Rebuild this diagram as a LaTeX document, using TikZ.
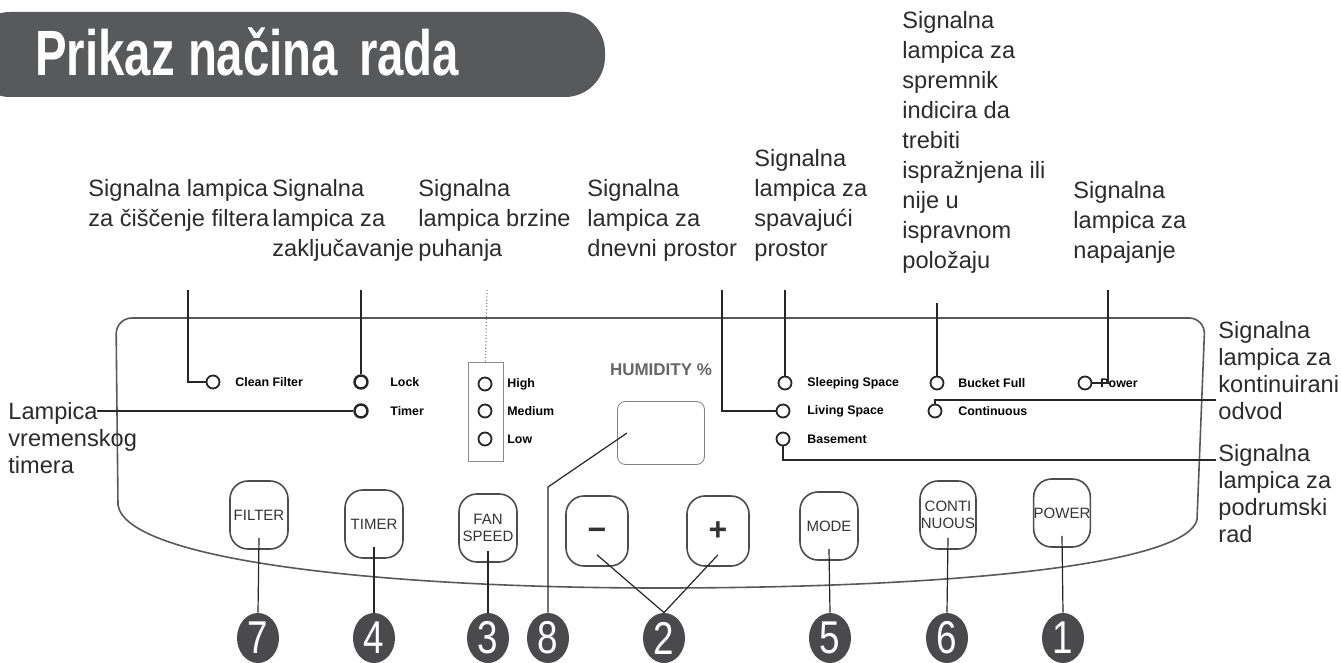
\documentclass[tikz,border=0pt]{standalone}
\usepackage{fontspec}
\setmainfont{Liberation Sans}
\usepackage{graphicx}
\usetikzlibrary{shapes.geometric}

\definecolor{bannergray}{HTML}{58595B}
\definecolor{numgray}{HTML}{4A4A4C}
\definecolor{txtgray}{HTML}{2B2B2B}

\tikzset{
  lbl/.style={anchor=north west, inner sep=0pt, align=left, text=txtgray,
    font=\fontsize{11.8}{15}\selectfont},
  sidelbl/.style={lbl, font=\fontsize{11.8}{13.5}\selectfont},
  led/.style={circle, draw=black!85, line width=0.9pt, minimum size=6.5pt, inner sep=0pt},
  ledtxt/.style={anchor=west, inner sep=0pt, font=\bfseries\fontsize{6.2}{7}\selectfont},
  btn/.style={draw=black!70, line width=0.8pt, rounded corners=9pt, minimum width=29pt,
    minimum height=34pt, inner sep=0pt, align=center, text=black!80,
    font=\fontsize{7.5}{8.5}\selectfont},
  num/.style={ellipse, fill=numgray, text=white, minimum width=21pt, minimum height=25pt,
    inner sep=0pt, font=\fontsize{23}{23}\selectfont},
  leader/.style={line width=0.6pt, black!85},
  panel/.style={line width=0.8pt, black!65}
}

\begin{document}
\begin{tikzpicture}[x=0.5pt, y=-0.5pt]
\useasboundingbox (0,0) rectangle (1341,663);

% title banner
\fill[bannergray, rounded corners=20pt] (-30,12) rectangle (605,97);
\node[anchor=base west, inner sep=0pt, text=white, font=\bfseries\fontsize{32}{32}\selectfont]
  (title) at (35,76) {\scalebox{0.74}[1]{Prikaz načina\, rada}};

% panel outline
\draw[panel, rounded corners=8pt] (1197,520) -- (1205,318) -- (116,318) -- (118,505);
\draw[panel] (118,505) .. controls (126,560) and (380,588) .. (660,588)
                       .. controls (950,588) and (1185,565) .. (1197,520);

% labels
\node[lbl] (t1) at (88,179) {Signalna lampica\\za čiščenje filtera};
\node[lbl] (t2) at (272,179) {Signalna\\lampica za\\zaključavanje};
\node[lbl] (t3) at (418,179) {Signalna\\lampica brzine\\puhanja};
\node[lbl] (t4) at (587,179) {Signalna\\lampica za\\dnevni prostor};
\node[lbl] (t5) at (754,149) {Signalna\\lampica za\\spavajući\\prostor};
\node[lbl] (t6) at (902,11) {Signalna\\lampica za\\spremnik\\indicira da\\trebiti\\ispražnjena ili\\nije u\\ispravnom\\položaju};
\node[lbl] (t7) at (1073,181) {Signalna\\lampica za\\napajanje};
\node[sidelbl] (r1) at (1218,321) {Signalna\\lampica za\\kontinuirani\\odvod};
\node[sidelbl] (r2) at (1218,444) {Signalna\\lampica za\\podrumski\\rad};
\node[sidelbl] (lt) at (8,402) {Lampica\\vremenskog\\timera};

% indicator lamps
\node[led] (clean) at (213,382) {};
\node[ledtxt] at (235,382) {Clean Filter};
\node[led, line width=1.2pt] (lock) at (361,382) {};
\node[ledtxt] at (390,382) {Lock};
\node[led, line width=1.2pt] (timer) at (361,411) {};
\node[ledtxt] at (390,411) {Timer};
\node[draw=black!45, minimum width=17.5pt, minimum height=49.5pt, inner sep=0pt] (fanbox) at (485.5,411.5) {};
\node[led] (high) at (485,384) {};
\node[ledtxt] at (507,384) {High};
\node[led] (medium) at (485,411) {};
\node[ledtxt] at (507,411) {Medium};
\node[led] (low) at (485,439) {};
\node[ledtxt] at (507,439) {Low};
\node[text=black!60, inner sep=0pt, font=\bfseries\fontsize{8.5}{9}\selectfont] (hum) at (661,370) {HUMIDITY \%};
\node[draw=black!50, rounded corners=4pt, minimum width=43.5pt, minimum height=31.5pt, inner sep=0pt] (disp) at (661,433) {};
\node[led] (sleep) at (785,383) {};
\node[ledtxt] at (807,383) {Sleeping Space};
\node[led] (living) at (783,411) {};
\node[ledtxt] at (807,411) {Living Space};
\node[led] (basement) at (783,439) {};
\node[ledtxt] at (807,439) {Basement};
\node[led] (bucket) at (937,383) {};
\node[ledtxt] at (958,383) {Bucket Full};
\node[led] (cont) at (935,411) {};
\node[ledtxt] at (958,411) {Continuous};
\node[led] (power) at (1085,383) {};
\node[ledtxt] at (1100,383) {Power};

% buttons
\node[btn] (fbtn) at (259,515) {FILTER};
\node[btn] (tbtn) at (374,524) {TIMER};
\node[btn] (sbtn) at (488,528) {FAN\\SPEED};
\node[btn, minimum width=31pt, minimum height=35pt, font=\bfseries\fontsize{16}{16}\selectfont] (minus) at (597,531) {\vphantom{+}−};
\node[btn, minimum width=31pt, minimum height=35pt, font=\bfseries\fontsize{16}{16}\selectfont] (plus) at (718,531) {+};
\node[btn] (mbtn) at (829,526) {MODE};
\node[btn, minimum width=28pt] (cbtn) at (948,515) {CONTI\\NUOUS};
\node[btn, minimum width=28pt] (pbtn) at (1062,513) {POWER};

% numbers
\node[num] (n7) at (258,638) {\scalebox{0.8}[1]{7}};
\node[num] (n4) at (374,638) {\scalebox{0.8}[1]{4}};
\node[num] (n3) at (488,638) {\scalebox{0.8}[1]{3}};
\node[num] (n8) at (548,638) {\scalebox{0.8}[1]{8}};
\node[num] (n2) at (664,638) {\scalebox{0.8}[1]{2}};
\node[num] (n5) at (830,638) {\scalebox{0.8}[1]{5}};
\node[num] (n6) at (947,638) {\scalebox{0.8}[1]{6}};
\node[num] (n1) at (1063,638) {\scalebox{0.8}[1]{1}};

% leader ends
\coordinate (l1) at (188,290);
\coordinate (l2) at (361,290);
\coordinate (l3) at (487,290);
\coordinate (l4) at (722,290);
\coordinate (l5) at (785,290);
\coordinate (l6) at (937,303);
\coordinate (l7) at (1108,290);
\coordinate (tl) at (97,411);
\coordinate (rk) at (1216,400);
\coordinate (rp) at (1216,460);
\coordinate (k8) at (548,487);
\coordinate (d8) at (627,433);

% leaders to lamps
\draw[leader] (l1) |- (clean.west);
\draw[leader] (l2) -- (lock.north);
\draw[leader, black!45, densely dotted] (l3) -- (fanbox.north);
\draw[leader] (l4) |- (living.west);
\draw[leader] (l5) -- (sleep.north);
\draw[leader] (l6) -- (bucket.north);
\draw[leader] (l7) |- (power.east);
\draw[leader] (tl) -- (timer.west);
\draw[leader] (cont.north) |- (rk);
\draw[leader] (basement.south) |- (rp);

% leaders to buttons
\draw[leader] ([yshift=6pt]fbtn.south) -- (n7.north);
\draw[leader] ([yshift=6pt]tbtn.south) -- (n4.north);
\draw[leader] ([yshift=6pt]sbtn.south) -- (n3.north);
\draw[leader] ([yshift=6pt]minus.south) -- (n2.north);
\draw[leader] ([yshift=6pt]plus.south) -- (n2.north);
\draw[leader] ([yshift=6pt]mbtn.south) -- (n5.north);
\draw[leader] ([yshift=6pt]cbtn.south) -- (n6.north);
\draw[leader] ([yshift=6pt]pbtn.south) -- (n1.north);
\draw[leader] (n8.north) -- (k8) -- (d8);
\end{tikzpicture}
\end{document}
